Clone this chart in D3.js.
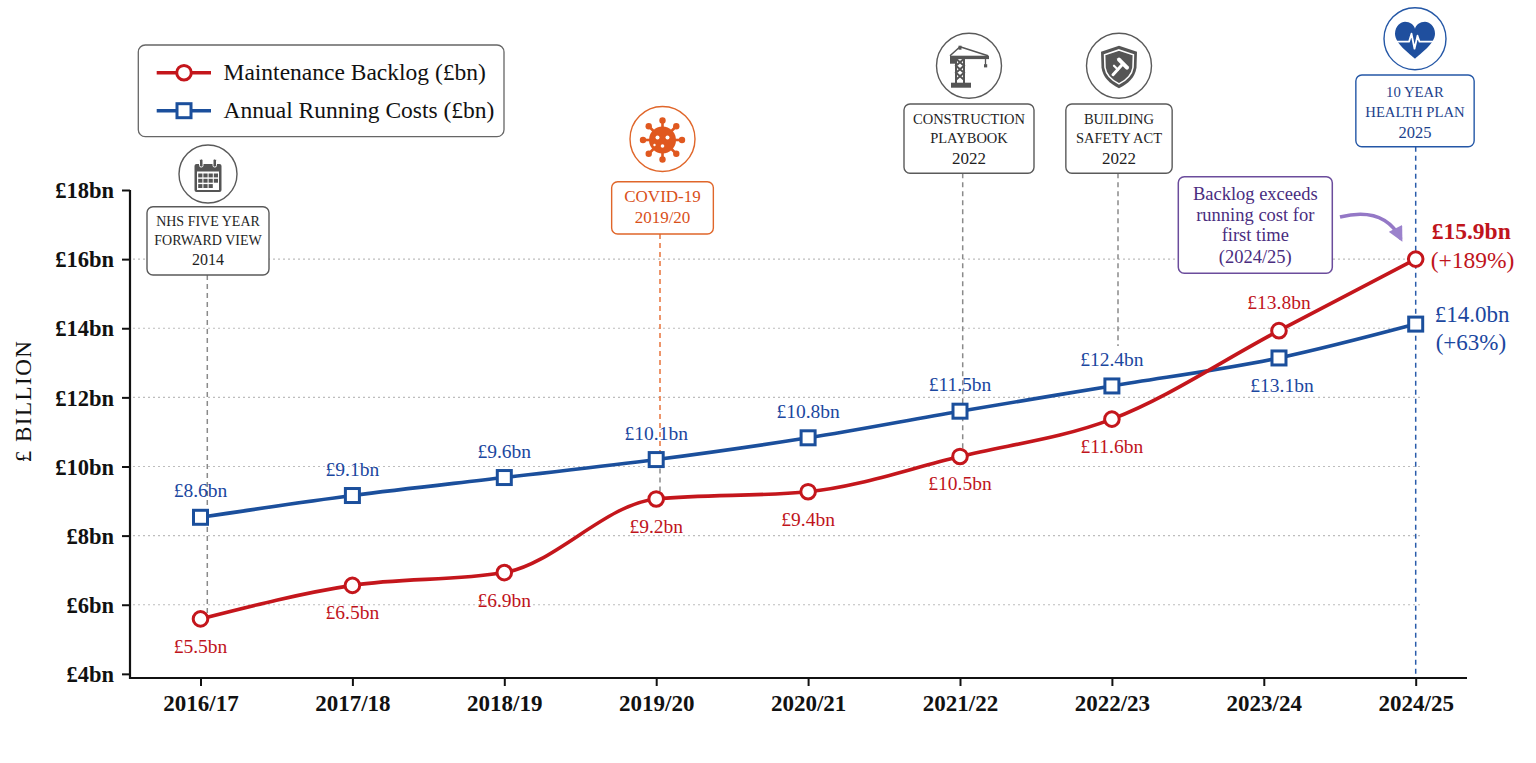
<!DOCTYPE html>
<html><head><meta charset="utf-8">
<script src="https://cdn.jsdelivr.net/npm/d3@7"></script>
<style>
body{margin:0;background:#fff;}
svg{display:block;font-family:"Liberation Serif","Times New Roman",serif;}
</style>
</head><body>
<script>
// ---------------- DATA ----------------
const categories = ["2016/17","2017/18","2018/19","2019/20","2020/21","2021/22","2022/23","2023/24","2024/25"];
const periodPos = [0,1,2,3,4,5,6,7.1,8];
const backlog = [5.59,6.56,6.93,9.06,9.27,10.29,11.37,13.93,16.0];
const running = [8.53,9.16,9.68,10.2,10.83,11.6,12.33,13.14,14.12];
const backlogLabels = ["£5.5bn","£6.5bn","£6.9bn","£9.2bn","£9.4bn","£10.5bn","£11.6bn","£13.8bn","£15.9bn"];
const runningLabels = ["£8.6bn","£9.1bn","£9.6bn","£10.1bn","£10.8bn","£11.5bn","£12.4bn","£13.1bn","£14.0bn"];
const changeLabels = ["(+189%)","(+63%)"];
const yTicks = [4,6,8,10,12,14,16,18];
const gridValues = [6,8,10,12,14,16];
const seriesNames = ["Maintenance Backlog (£bn)","Annual Running Costs (£bn)"];
const yTitle = "£ BILLION";
const eventAt = [0,3,5,6,8];
const eventTitles = [["NHS FIVE YEAR","FORWARD VIEW"],["COVID-19"],["CONSTRUCTION","PLAYBOOK"],["BUILDING","SAFETY ACT"],["10 YEAR","HEALTH PLAN"]];
const eventYears = ["2014","2019/20","2022","2022","2025"];
const eventIcons = ["calendar","virus","crane","shield","heart"];
const calloutLines = ["Backlog exceeds","running cost for","first time","(2024/25)"];

// ---------------- LAYOUT / STYLE ----------------
const W = 1536, H = 763;
const RED = "#c4161c", BLUE = "#1b4f9c", RED_T = "#c0141c", BLUE_T = "#1b47a0";
const tones = {
  gray:   {stroke:"#5a5a5a", text:"#1e1e1e", icon:"#555555", line:"#8a8a8a"},
  orange: {stroke:"#e0662a", text:"#d9501a", icon:"#e0581f", line:"#e8733a"},
  blue:   {stroke:"#2457a6", text:"#1c3f8c", icon:"#1f4f9e", line:"#2a5caa"}
};
const evLayout = [
  {dx:7.5, lineDx:6.8, boxY:206.7, boxW:122, boxH:68.3, iconY:174, r:29, titleY:[221.7,240.7], yearY:260, fsT:14, fsY:16, tone:"gray", end:"lower"},
  {dx:6.3, lineDx:3.8, boxY:181.7, boxW:101.7, boxH:52.3, iconY:139, r:32.5, titleY:[196.7], yearY:217.3, fsT:17, fsY:17, tone:"orange", end:"upperGap"},
  {dx:9, lineDx:2.7, boxY:104, boxW:130, boxH:69.3, iconY:65.7, r:32.5, titleY:[119.3,138.3], yearY:158.3, fsT:14.5, fsY:17, tone:"gray", end:"lower"},
  {dx:7.1, lineDx:6.1, boxY:104, boxW:106.3, boxH:69.3, iconY:65.7, r:32.5, titleY:[119.3,138.3], yearY:158.3, fsT:14.5, fsY:17, tone:"gray", end:"label"},
  {dx:-0.7, lineDx:0, boxY:75, boxW:118.3, boxH:71.7, iconY:38.7, r:31, titleY:[91.7,111.7], yearY:132.7, fsT:14.7, fsY:16.5, tone:"blue", end:"axis"}
];

const axisLeftX = 130, axisRightX = 1467, axisBottomY = 678;
const x = d3.scaleLinear().domain([0,8]).range([200.5,1415.7]);
const y = d3.scaleLinear().domain([3.88,18]).range([678,190]);

const svg = d3.select("body").append("svg").attr("width",W).attr("height",H);

// gridlines
svg.append("g").selectAll("line").data(gridValues).join("line")
  .attr("x1",axisLeftX+3).attr("x2",1423)
  .attr("y1",d=>y(d)).attr("y2",d=>y(d))
  .attr("stroke","#bdbdbd").attr("stroke-width",1.2).attr("stroke-dasharray","2,3");

// event vertical lines
const evG = svg.append("g");
eventAt.forEach((at,k)=>{
  const L = evLayout[k], T = tones[L.tone];
  const lx = x(at)+L.lineDx;
  const i = at;
  const up = Math.max(backlog[i],running[i]), lo = Math.min(backlog[i],running[i]);
  const y0 = L.boxY + L.boxH;
  let y1;
  if (L.end==="lower") y1 = y(lo);
  else if (L.end==="upperGap") y1 = y(up);
  else if (L.end==="label") y1 = y(up)-40;
  else y1 = axisBottomY;
  evG.append("line").attr("x1",lx).attr("x2",lx).attr("y1",y0).attr("y2",y1)
    .attr("stroke",T.line).attr("stroke-width",1.5).attr("stroke-dasharray","5,4");
  if (L.end==="upperGap") {
    evG.append("line").attr("x1",lx).attr("x2",lx).attr("y1",y(up)).attr("y2",y(lo))
      .attr("stroke",tones.gray.line).attr("stroke-width",1.5).attr("stroke-dasharray","5,4");
  }
});

// axes
const yAxis = d3.axisLeft(y).tickValues(yTicks).tickSize(8).tickPadding(8).tickFormat(d=>"£"+d+"bn");
const yg = svg.append("g").attr("transform",`translate(${axisLeftX},0)`).call(yAxis);
yg.select(".domain").remove();
yg.selectAll(".tick line").attr("stroke","#111").attr("stroke-width",2);
yg.selectAll(".tick text").attr("font-family","Liberation Serif").attr("font-size",22.5)
  .attr("font-weight","bold").attr("fill","#111").attr("dy","0.34em");

const xAxis = d3.axisBottom(x).tickValues(d3.range(categories.length)).tickSize(8).tickPadding(9).tickFormat(i=>categories[i]);
const xg = svg.append("g").attr("transform",`translate(0,${axisBottomY})`).call(xAxis);
xg.select(".domain").remove();
xg.selectAll(".tick line").attr("stroke","#111").attr("stroke-width",2);
xg.selectAll(".tick text").attr("font-family","Liberation Serif").attr("font-size",23)
  .attr("font-weight","bold").attr("fill","#111");

svg.append("path").attr("d",`M${axisLeftX},${y(18)}V${axisBottomY}H${axisRightX}`)
  .attr("fill","none").attr("stroke","#111").attr("stroke-width",2.2);

svg.append("text").attr("transform",`translate(31,401) rotate(-90)`)
  .attr("text-anchor","middle").attr("font-size",23).attr("letter-spacing",1.5)
  .attr("fill","#111").text(yTitle);

// series lines
const line = d3.line().x((d,i)=>x(periodPos[i])).y(d=>y(d)).curve(d3.curveMonotoneX);
svg.append("path").datum(running).attr("d",line).attr("fill","none").attr("stroke",BLUE).attr("stroke-width",3.6);
svg.append("path").datum(backlog).attr("d",line).attr("fill","none").attr("stroke",RED).attr("stroke-width",3.6);

// markers
svg.append("g").selectAll("rect").data(running).join("rect")
  .attr("x",(d,i)=>x(periodPos[i])-7).attr("y",d=>y(d)-7).attr("width",14).attr("height",14)
  .attr("fill","#fff").attr("stroke",BLUE).attr("stroke-width",3);
svg.append("g").selectAll("circle").data(backlog).join("circle")
  .attr("cx",(d,i)=>x(periodPos[i])).attr("cy",d=>y(d)).attr("r",7.3)
  .attr("fill","#fff").attr("stroke",RED).attr("stroke-width",3);

// data labels
const n = categories.length;
const lblG = svg.append("g").attr("font-size",19.5).attr("text-anchor","middle");
for (let i=0;i<n-1;i++){
  const redAbove = backlog[i] > running[i];
  lblG.append("text").attr("x",x(periodPos[i])).attr("y",y(backlog[i]) + (redAbove?-22:34))
    .attr("fill",RED_T).text(backlogLabels[i]);
  lblG.append("text").attr("x",x(periodPos[i])+(redAbove?3:0)).attr("y",y(running[i]) + (redAbove?34:-20))
    .attr("fill",BLUE_T).text(runningLabels[i]);
}
const lastX = x(periodPos[n-1]);
svg.append("text").attr("x",lastX+16).attr("y",y(backlog[n-1])-20).attr("font-size",23.5).attr("font-weight","bold")
  .attr("fill",RED_T).text(backlogLabels[n-1]);
svg.append("text").attr("x",lastX+15).attr("y",y(backlog[n-1])+9).attr("font-size",23.5)
  .attr("fill",RED_T).text(changeLabels[0]);
svg.append("text").attr("x",lastX+19).attr("y",y(running[n-1])-2).attr("font-size",23)
  .attr("fill",BLUE_T).text(runningLabels[n-1]);
svg.append("text").attr("x",lastX+20).attr("y",y(running[n-1])+26).attr("font-size",23)
  .attr("fill",BLUE_T).text(changeLabels[1]);

// ---------------- ICONS ----------------
function iconCalendar(g,c){
  g.append("rect").attr("x",-13.5).attr("y",-11).attr("width",27).attr("height",28).attr("rx",2).attr("fill",c);
  g.append("rect").attr("x",-11).attr("y",-3.5).attr("width",22).attr("height",18.5).attr("fill","#fff");
  for(let r=0;r<3;r++) for(let q=0;q<4;q++){
    if(r===2 && q===3) continue;
    g.append("rect").attr("x",-9.8+q*5.2).attr("y",-1.5+r*5.3).attr("width",4.2).attr("height",3.9).attr("fill",c);
  }
  [-8.5,5].forEach(rx=>g.append("rect").attr("x",rx).attr("y",-16).attr("width",3.5).attr("height",8).attr("rx",1.5)
    .attr("fill",c).attr("stroke","#fff").attr("stroke-width",1));
}
function iconVirus(g,c){
  for(let k=0;k<8;k++){
    const a = k*Math.PI/4 - Math.PI/2;
    g.append("line").attr("x1",Math.cos(a)*11).attr("y1",Math.sin(a)*11)
      .attr("x2",Math.cos(a)*18).attr("y2",Math.sin(a)*18).attr("stroke",c).attr("stroke-width",2.6);
    g.append("circle").attr("cx",Math.cos(a)*19.5).attr("cy",Math.sin(a)*19.5).attr("r",3.2).attr("fill",c);
  }
  g.append("circle").attr("r",13.5).attr("fill",c);
  g.append("circle").attr("cx",-5).attr("cy",-2.5).attr("r",2).attr("fill","#fff");
  g.append("circle").attr("cx",5).attr("cy",-2.5).attr("r",2).attr("fill","#fff");
  g.append("circle").attr("cx",0).attr("cy",6).attr("r",1.8).attr("fill","#fff");
  g.append("circle").attr("cx",-8).attr("cy",5).attr("r",1.2).attr("fill","#fff");
}
function iconCrane(g,c){
  g.append("rect").attr("x",-19).attr("y",-11).attr("width",39).attr("height",3.4).attr("fill",c);
  g.append("path").attr("d","M-9,-20 L-19,-11 M-9,-20 L19,-11").attr("stroke",c).attr("stroke-width",1.5).attr("fill","none");
  g.append("rect").attr("x",-10.5).attr("y",-21).attr("width",3).attr("height",4).attr("fill",c);
  g.append("rect").attr("x",-19).attr("y",-8).attr("width",6).attr("height",5).attr("fill",c);
  g.append("path").attr("d","M-13,-8V17 M-5,-8V17 M-13,-8L-5,-1L-13,6L-5,13 M-5,-8L-13,-1L-5,6L-13,13")
    .attr("stroke",c).attr("stroke-width",2).attr("fill","none");
  g.append("rect").attr("x",-18).attr("y",16).attr("width",20).attr("height",5).attr("fill",c);
  g.append("line").attr("x1",16.5).attr("x2",16.5).attr("y1",-8).attr("y2",-2).attr("stroke",c).attr("stroke-width",1.3);
  g.append("rect").attr("x",15).attr("y",-2.5).attr("width",3.2).attr("height",3.2).attr("fill",c);
}
function iconShield(g,c){
  const outer = "M0,-21 L18,-15 L17.5,1 C16,11 9,17 0,21.5 C-9,17 -16,11 -17.5,1 L-18,-15 Z";
  g.append("path").attr("d",outer).attr("fill",c);
  g.append("path").attr("d",outer).attr("transform","scale(0.8)").attr("fill",c).attr("stroke","#fff").attr("stroke-width",2);
  g.append("path").attr("d","M-6,8 L4,-3").attr("stroke","#fff").attr("stroke-width",3).attr("stroke-linecap","round");
  g.append("path").attr("d","M0,-7 L8,1").attr("stroke","#fff").attr("stroke-width",4).attr("stroke-linecap","round");
  g.append("path").attr("d","M-5,-1 L-1,3").attr("stroke","#fff").attr("stroke-width",2.2).attr("stroke-linecap","round");
}
function iconHeart(g,c){
  g.append("path").attr("d","M0,19 C-5,14 -20,4 -20,-6 C-20,-14 -14,-18 -10,-18 C-5,-18 -1,-15 0,-11 C1,-15 5,-18 10,-18 C14,-18 20,-14 20,-6 C20,4 5,14 0,19 Z")
    .attr("fill",c);
  g.append("path").attr("d","M-21,2 H-6 L-3.5,-6 L-0.5,9 L2.5,-4 L4.5,2 H21")
    .attr("fill","none").attr("stroke","#fff").attr("stroke-width",1.8).attr("stroke-linejoin","round");
}
const iconFns = {calendar:iconCalendar, virus:iconVirus, crane:iconCrane, shield:iconShield, heart:iconHeart};

// event boxes + icons
eventAt.forEach((at,k)=>{
  const L = evLayout[k], T = tones[L.tone];
  const cx = x(at)+L.dx;
  const g = svg.append("g");
  g.append("rect").attr("x",cx-L.boxW/2).attr("y",L.boxY).attr("width",L.boxW).attr("height",L.boxH)
    .attr("rx",6).attr("fill","#fff").attr("stroke",T.stroke).attr("stroke-width",1.4);
  eventTitles[k].forEach((t,j)=>{
    g.append("text").attr("x",cx).attr("y",L.titleY[j]+0.34*L.fsT).attr("text-anchor","middle")
      .attr("font-size",L.fsT).attr("fill",T.text).text(t);
  });
  g.append("text").attr("x",cx).attr("y",L.yearY+0.34*L.fsY).attr("text-anchor","middle")
    .attr("font-size",L.fsY).attr("fill",T.text).text(eventYears[k]);
  svg.append("circle").attr("cx",cx).attr("cy",L.iconY).attr("r",L.r)
    .attr("fill","#fff").attr("stroke",T.stroke).attr("stroke-width",1.4);
  const ig = svg.append("g").attr("transform",`translate(${cx},${L.iconY+1})`);
  iconFns[eventIcons[k]](ig,T.icon);
});

// callout box
const cb = {x:1178.3, y:176.7, w:154, h:96.6};
svg.append("rect").attr("x",cb.x).attr("y",cb.y).attr("width",cb.w).attr("height",cb.h).attr("rx",6)
  .attr("fill","#fff").attr("stroke","#6b4c9c").attr("stroke-width",1.5);
const cy0 = [194,215,235.3,257];
calloutLines.forEach((t,j)=>{
  svg.append("text").attr("x",cb.x+cb.w/2).attr("y",cy0[j]+6).attr("text-anchor","middle")
    .attr("font-size",18.5).attr("fill","#4a2d7f").text(t);
});
const defs = svg.append("defs");
defs.append("marker").attr("id","ah").attr("viewBox","0 0 10 10").attr("refX",8).attr("refY",5)
  .attr("markerWidth",17).attr("markerHeight",15).attr("markerUnits","userSpaceOnUse").attr("orient","auto")
  .append("path").attr("d","M0,0 L10,5 L0,10 Z").attr("fill","#9b82cc");
svg.append("path").attr("d","M1340,217 Q1384,206 1401,239")
  .attr("fill","none").attr("stroke","#9478c6").attr("stroke-width",3.5).attr("marker-end","url(#ah)");

// legend
const lg = svg.append("g");
lg.append("rect").attr("x",138.3).attr("y",45).attr("width",365.7).attr("height",91.7).attr("rx",7)
  .attr("fill","#fff").attr("stroke","#666").attr("stroke-width",1.3);
[[RED,72.7,"circle"],[BLUE,110.7,"rect"]].forEach(([c,ly,shape],j)=>{
  lg.append("line").attr("x1",156.7).attr("x2",211).attr("y1",ly).attr("y2",ly).attr("stroke",c).attr("stroke-width",3.6);
  if(shape==="circle") lg.append("circle").attr("cx",184).attr("cy",ly).attr("r",7.3).attr("fill","#fff").attr("stroke",c).attr("stroke-width",3);
  else lg.append("rect").attr("x",177).attr("y",ly-7).attr("width",14).attr("height",14).attr("fill","#fff").attr("stroke",c).attr("stroke-width",3);
  lg.append("text").attr("x",223.5).attr("y",ly+7.5).attr("font-size",23.5).attr("fill","#111").text(seriesNames[j]);
});
</script>
</body></html>
